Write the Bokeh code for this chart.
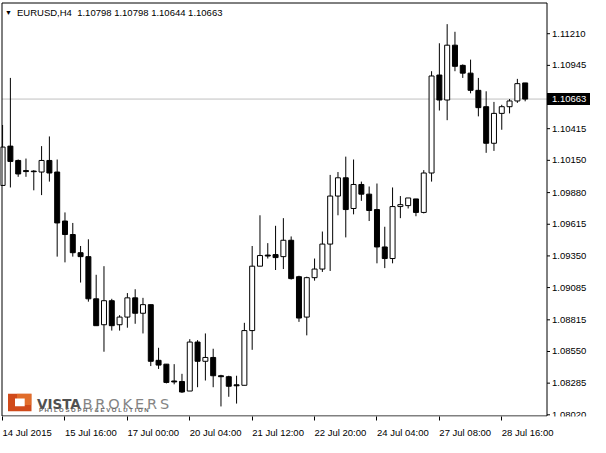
from bokeh.plotting import figure
from bokeh.models import Range1d, FixedTicker, Label, ColumnDataSource
from bokeh.core.properties import value
from bokeh.embed import file_html
from bokeh.resources import INLINE

# ---- data (EURUSD, H4) ----
opens = [1.09940, 1.10269, 1.10149, 1.10064, 1.10060, 1.10052, 1.10149, 1.10052, 1.09642, 1.09529,
         1.09377, 1.09344, 1.08991, 1.08774, 1.08975, 1.08774, 1.08838, 1.08999, 1.08870, 1.08942,
         1.08476, 1.08444, 1.08303, 1.08299, 1.08219, 1.08629, 1.08468, 1.08500, 1.08347, 1.08339,
         1.08271, 1.08267, 1.08725, 1.09264, 1.09357, 1.09361, 1.09344, 1.09481, 1.09176, 1.08838,
         1.09168, 1.09240, 1.09449, 1.09851, 1.10004, 1.09747, 1.09948, 1.09867, 1.09738, 1.09425,
         1.09328, 1.09763, 1.09771, 1.09827, 1.09714, 1.10044, 1.10864, 1.10655, 1.11114, 1.10945,
         1.10880, 1.10736, 1.10599, 1.10293, 1.10543, 1.10599, 1.10647, 1.10798]
highs = [1.10446, 1.10840, 1.10157, 1.10165, 1.10068, 1.10269, 1.10350, 1.10157, 1.09714, 1.09626,
         1.09433, 1.09489, 1.09192, 1.09264, 1.08991, 1.08854, 1.09039, 1.09071, 1.08999, 1.08942,
         1.08581, 1.08444, 1.08444, 1.08363, 1.08653, 1.08645, 1.08701, 1.08573, 1.08355, 1.08347,
         1.08347, 1.08790, 1.09433, 1.09690, 1.09457, 1.09602, 1.09666, 1.09513, 1.09184, 1.09176,
         1.09328, 1.09554, 1.10028, 1.10052, 1.10181, 1.10157, 1.09972, 1.09931, 1.09956, 1.09594,
         1.09923, 1.09851, 1.09835, 1.09827, 1.10068, 1.10896, 1.11130, 1.11290, 1.11226, 1.10953,
         1.10993, 1.10840, 1.10728, 1.10639, 1.10615, 1.10663, 1.10832, 1.10798]
lows = [1.09940, 1.09923, 1.10012, 1.10012, 1.09899, 1.09859, 1.09972, 1.09344, 1.09296, 1.09344,
        1.09127, 1.08967, 1.08766, 1.08548, 1.08725, 1.08725, 1.08749, 1.08782, 1.08701, 1.08428,
        1.08404, 1.08283, 1.08275, 1.08203, 1.08219, 1.08251, 1.08307, 1.08251, 1.08090, 1.08171,
        1.08114, 1.08267, 1.08564, 1.09264, 1.09328, 1.09232, 1.09240, 1.09152, 1.08798, 1.08685,
        1.09143, 1.09216, 1.09224, 1.09690, 1.09505, 1.09698, 1.09811, 1.09642, 1.09288, 1.09248,
        1.09288, 1.09666, 1.09747, 1.09682, 1.09706, 1.09972, 1.10567, 1.10486, 1.10896, 1.10840,
        1.10711, 1.10518, 1.10213, 1.10229, 1.10406, 1.10543, 1.10631, 1.10644]
closes = [1.10261, 1.10141, 1.10036, 1.10056, 1.10055, 1.10149, 1.10044, 1.09626, 1.09529, 1.09377,
          1.09344, 1.08991, 1.08766, 1.08975, 1.08766, 1.08838, 1.08999, 1.08870, 1.08942, 1.08468,
          1.08436, 1.08291, 1.08295, 1.08211, 1.08629, 1.08468, 1.08500, 1.08347, 1.08339, 1.08259,
          1.08263, 1.08725, 1.09264, 1.09353, 1.09349, 1.09336, 1.09481, 1.09160, 1.08830, 1.09168,
          1.09240, 1.09449, 1.09851, 1.10004, 1.09738, 1.09948, 1.09867, 1.09730, 1.09425, 1.09328,
          1.09763, 1.09779, 1.09835, 1.09714, 1.10044, 1.10856, 1.10655, 1.11114, 1.10937, 1.10880,
          1.10736, 1.10591, 1.10293, 1.10543, 1.10599, 1.10647, 1.10792, 1.10663]
bar_index = list(range(len(opens)))

tick_bars = [0, 8, 16, 24, 32, 40, 48, 56, 64]
tick_labels = ["14 Jul 2015", "15 Jul 16:00", "17 Jul 00:00", "20 Jul 04:00", "21 Jul 12:00",
               "22 Jul 20:00", "24 Jul 04:00", "27 Jul 08:00", "28 Jul 16:00"]
price_ticks = [1.11210, 1.10945, 1.10415, 1.10150, 1.09880, 1.09615, 1.09350, 1.09085,
               1.08815, 1.08550, 1.08285, 1.08020]
last_price = 1.10663
symbol = "EURUSD,H4"

FONT = "Liberation Sans"

# chart window in data units (bars / price) and its place on the canvas
X0, X1 = -0.075, 69.8
Y0, Y1 = 1.08010, 1.11467
FW, FH = 590, 416                 # drawing frame (chart + price scale column)
CL, CR, CT, CB = 1.5, 546.5, 2.5, 415.5
ppx = (CR - CL) / (X1 - X0)       # px per bar
ppy = (CB - CT) / (Y1 - Y0)       # px per price unit


def dx(px):
    return px / ppx


def dy(px):
    return px / ppy


p = figure(frame_width=FW, frame_height=FH,
           x_range=Range1d(X0 - dx(CL), X1 + dx(FW - CR)),
           y_range=Range1d(Y0 - dy(FH - CB), Y1 + dy(CT)),
           output_backend="svg", toolbar_location=None, y_axis_location=None,
           min_border_left=0, min_border_top=0, min_border_right=0, min_border_bottom=20)
p.background_fill_color = "white"
p.border_fill_color = "white"
p.outline_line_color = None
p.grid.visible = False

# bottom time axis: ticks at every 8th bar, labels starting at the tick
xa = p.xaxis[0]
xa.ticker = FixedTicker(ticks=tick_bars)
xa.major_label_overrides = {t: s for t, s in zip(tick_bars, tick_labels)}
xa.major_label_orientation = -1e-6
xa.major_tick_out = 4
xa.major_tick_in = 0
xa.minor_tick_line_color = None
xa.axis_line_color = None
xa.major_tick_line_color = "black"
xa.major_label_standoff = 12
xa.major_label_text_font = FONT
xa.major_label_text_font_size = "9.5px"
xa.major_label_text_color = "black"

# logo (bottom-left)
p.quad(left=X0 + dx(6), right=X0 + dx(29.5), bottom=Y0 + dy(4.8), top=Y0 + dy(22.2),
       fill_color="#d04a1a", line_color=None)
p.quad(left=X0 + dx(15), right=X0 + dx(29.5), bottom=Y0 + dy(11), top=Y0 + dy(22.2),
       fill_color="#ee8a3a", line_color=None, fill_alpha=0.55)
p.quad(left=X0 + dx(13), right=X0 + dx(22.7), bottom=Y0 + dy(9.7), top=Y0 + dy(17.4),
       fill_color="white", line_color=None)
p.add_layout(Label(x=X0 + dx(35), y=Y0 + dy(12.5), text="VISTA", text_font="DejaVu Sans",
                   text_font_style="bold", text_font_size="13.5px", text_color="#505050",
                   text_baseline="alphabetic", text_align="left"))
p.add_layout(Label(x=X0 + dx(80.5), y=Y0 + dy(12.5), text="\u2009".join("BROKERS"),
                   text_font="DejaVu Sans", text_font_size="14.5px", text_color="#858585",
                   text_baseline="alphabetic", text_align="left"))
p.add_layout(Label(x=X0 + dx(37), y=Y0 + dy(6.5), text="P H I L O S O P H Y   &   E V O L U T I O N",
                   text_font=FONT, text_font_style="bold", text_font_size="6px",
                   text_color="#666666", text_baseline="middle", text_align="left"))

# current price line (inside the chart window only)
p.segment(x0=[X0], x1=[X1], y0=[last_price], y1=[last_price], line_color="#c0c0c0", line_width=1)

# candles
tops = [max(o, c) for o, c in zip(opens, closes)]
bottoms = [min(o, c) for o, c in zip(opens, closes)]
fills = ["white" if c > o else "black" for o, c in zip(opens, closes)]
src = ColumnDataSource(dict(x=bar_index, high=highs, low=lows, top=tops, bottom=bottoms, fill=fills))
p.segment(x0="x", y0="high", x1="x", y1="low", source=src, line_color="black", line_width=1)
p.vbar(x="x", width=0.64, top="top", bottom="bottom", source=src, fill_color="fill",
       line_color="black", line_width=1)

# chart window border
p.quad(left=[X0], right=[X1], bottom=[Y0], top=[Y1], fill_color=None, line_color="black",
       line_width=1)

# price scale column: ticks, labels and the current-price tag
p.segment(x0=[X1] * len(price_ticks), x1=[X1 + dx(3)] * len(price_ticks),
          y0=price_ticks, y1=price_ticks, line_color="black", line_width=1)
p.text(x=[X1 + dx(5)] * len(price_ticks), y=price_ticks, text=[f"{v:.5f}" for v in price_ticks],
       text_font=value(FONT), text_font_size="9.5px", text_color="black",
       text_baseline="middle", text_align="left")
p.quad(left=[X1], right=[X1 + dx(FW - CR)], bottom=[last_price - dy(6)], top=[last_price + dy(6)],
       fill_color="black", line_color=None)
p.text(x=[X1 + dx(5)], y=[last_price], text=[f"{last_price:.5f}"], text_font=value(FONT),
       text_font_size="9.5px", text_color="white", text_baseline="middle", text_align="left")

# header
hdr = "\u00a0\u00a0".join([symbol, " ".join(f"{v:.5f}" for v in
                           (opens[-1], highs[-1], lows[-1], closes[-1]))])
p.add_layout(Label(x=X0, y=Y1, x_offset=3, y_offset=-9, text="\u25bc", text_font=FONT,
                   text_font_size="7px", text_color="black", text_baseline="middle",
                   text_align="left"))
p.add_layout(Label(x=X0, y=Y1, x_offset=15, y_offset=-9, text=hdr, text_font=FONT,
                   text_font_size="9.5px", text_color="black", text_baseline="middle",
                   text_align="left"))

open("out.html", "w").write(file_html(p, INLINE))
